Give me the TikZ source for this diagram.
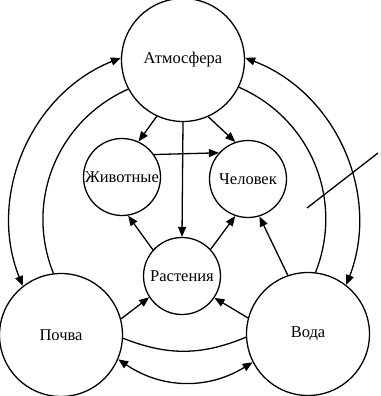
\documentclass[tikz,border=0pt]{standalone}
\usepackage{fontspec}
\setmainfont{Liberation Serif}
\usetikzlibrary{arrows.meta,positioning}

\begin{document}
\begin{tikzpicture}[
    x=1pt, y=1pt,
    every node/.style={font=\fontsize{16.5}{18}\selectfont},
    big/.style={circle, draw, line width=1.3pt, minimum size=123pt, inner sep=0pt},
    small/.style={circle, draw, line width=1.3pt, minimum size=77pt, inner sep=0pt},
    link/.style={line width=1.3pt},
    arr/.style={link, -{Triangle[length=10pt,width=8pt]}},
    darr/.style={link, {Triangle[length=10pt,width=8pt]}-{Triangle[length=10pt,width=8pt]}}
]
\useasboundingbox (0,0) rectangle (380,-396);

% spheres
\node[big] (atm) at (183,-60) {Атмосфера};
\node[big] (pochva) at (61,-335) {Почва};
\node[big] (voda) at (308,-334) {Вода};
\node[small] (zhiv) at (122,-177) {Животные};
\node[small] (chel) at (248,-179) {Человек};
\node[small] (rast) at (182,-276) {Растения};

% outer and inner rings
\draw[darr] (atm.178) to[bend right=45] (pochva.128);
\draw[darr] (atm.2) to[bend left=45] (voda.52);
\draw[link] (atm.208) to[bend right=44] (pochva.97);
\draw[link] (atm.334) to[bend left=44] (voda.83);
\draw[link] (pochva.-3) to[bend right=22] (voda.183);
\draw[darr] (pochva.-23) to[bend right=33] (voda.207);

% flows
\draw[arr] (atm.245) -- (zhiv.65);
\draw[arr] (atm.294) -- (chel.109);
\draw[arr] (atm.south) -- (rast.north);
\draw[arr] (zhiv.35) -- (chel.138);
\draw[arr] (rast.138) -- (zhiv.279);
\draw[arr] (rast.43) -- (chel.251);
\draw[arr] (voda.109) -- (chel.287);
\draw[arr] (pochva.15) -- (rast.213);
\draw[arr] (voda.165) -- (rast.326);

% leader line
\coordinate (lead1) at (378,-153);
\coordinate (lead2) at (307,-208);
\draw[link] (lead1) -- (lead2);
\end{tikzpicture}
\end{document}
